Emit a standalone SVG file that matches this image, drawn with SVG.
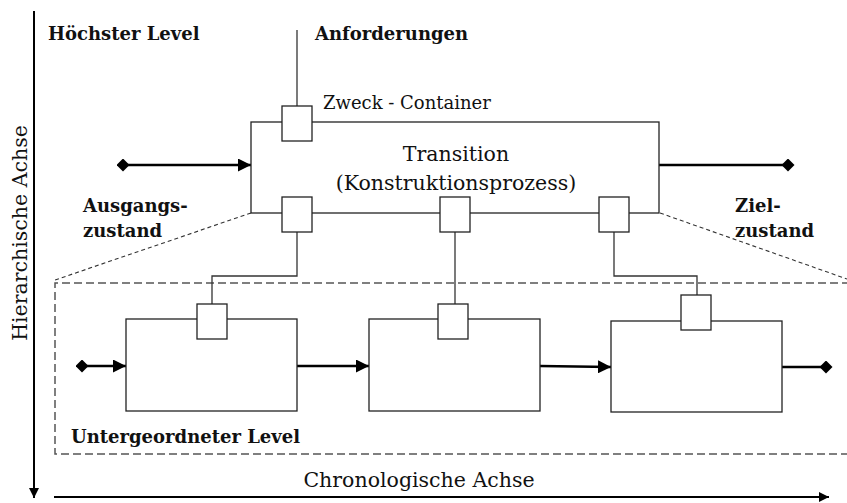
<svg xmlns="http://www.w3.org/2000/svg" width="847" height="503" viewBox="0 0 847 503">
  <defs>
    <marker id="tri" viewBox="0 0 10 10" refX="10" refY="5" markerWidth="5" markerHeight="5" markerUnits="strokeWidth" orient="auto">
      <path d="M0,0 L10,5 L0,10 z" fill="#000"/>
    </marker>
    <marker id="dia" viewBox="0 0 10 10" refX="5" refY="5" markerWidth="5" markerHeight="5" markerUnits="strokeWidth" orient="auto">
      <path d="M0,5 L5,0 L10,5 L5,10 z" fill="#000"/>
    </marker>
    <marker id="axis" viewBox="0 0 10 10" refX="10" refY="5" markerWidth="6" markerHeight="5" markerUnits="strokeWidth" orient="auto">
      <path d="M0,0 L10,5 L0,10 z" fill="#000"/>
    </marker>
  </defs>
  <style>
    .box { fill: #fff; stroke: #222; stroke-width: 1.3; }
    .wire { fill: none; stroke: #333; stroke-width: 1.3; }
    .flow { fill: none; stroke: #000; stroke-width: 2.6; }
    .axis { fill: none; stroke: #000; stroke-width: 2; }
    .scope { fill: none; stroke: #555; stroke-width: 1.5; stroke-dasharray: 8 4; }
    .zoom { fill: none; stroke: #333; stroke-width: 1.1; stroke-dasharray: 4 3; }
    .bold { font-family: "DejaVu Serif", "Liberation Serif", serif; font-weight: bold; font-size: 18px; fill: #111; }
    .reg { font-family: "DejaVu Serif", "Liberation Serif", serif; font-size: 18px; fill: #111; }
    .big { font-family: "DejaVu Serif", "Liberation Serif", serif; font-size: 20.5px; fill: #111; }
  </style>

  <!-- axes -->
  <g id="axes">
    <line class="axis" x1="34" y1="11" x2="34" y2="498" marker-end="url(#axis)"/>
    <line class="axis" x1="54" y1="497" x2="829" y2="497" marker-end="url(#axis)"/>
    <text class="big" transform="translate(27,233) rotate(-90)" text-anchor="middle">Hierarchische Achse</text>
    <text class="big" x="419" y="487" text-anchor="middle">Chronologische Achse</text>
  </g>

  <!-- scope of the lower level -->
  <g id="lower-scope">
    <path class="scope" d="M850,283 H55 V454 H850"/>
    <line class="zoom" x1="251" y1="213" x2="55" y2="280"/>
    <line class="zoom" x1="660" y1="213" x2="847" y2="279"/>
  </g>

  <!-- connectors -->
  <g id="connectors">
    <line class="wire" x1="297" y1="30" x2="297" y2="106"/>
    <path class="wire" d="M297,232 V276 H212 V304"/>
    <line class="wire" x1="455" y1="232" x2="455" y2="304"/>
    <path class="wire" d="M614,231 V276 H697 V295"/>
    <line class="flow" x1="123" y1="165" x2="251" y2="165" marker-start="url(#dia)" marker-end="url(#tri)"/>
    <line class="flow" x1="659" y1="165" x2="788" y2="165" marker-end="url(#dia)"/>
    <line class="flow" x1="82" y1="366" x2="126" y2="366" marker-start="url(#dia)" marker-end="url(#tri)"/>
    <line class="flow" x1="297" y1="366" x2="369" y2="366" marker-end="url(#tri)"/>
    <line class="flow" x1="540" y1="366" x2="611" y2="367" marker-end="url(#tri)"/>
    <line class="flow" x1="782" y1="367" x2="826" y2="367" marker-end="url(#dia)"/>
  </g>

  <!-- upper level: transition -->
  <g id="transition">
    <rect class="box" x="251" y="122" width="408" height="91"/>
    <text class="big" x="456" y="161" text-anchor="middle">Transition</text>
    <text class="big" x="456" y="190" text-anchor="middle">(Konstruktionsprozess)</text>
  </g>
  <g id="purpose-port">
    <rect class="box" x="282" y="106" width="30" height="35"/>
  </g>
  <g id="port-a">
    <rect class="box" x="282" y="197" width="30" height="35"/>
  </g>
  <g id="port-b">
    <rect class="box" x="440" y="197" width="30" height="35"/>
  </g>
  <g id="port-c">
    <rect class="box" x="599" y="197" width="30" height="35"/>
  </g>

  <!-- lower level: sub-transitions -->
  <g id="sub-1">
    <rect class="box" x="126" y="319" width="171" height="92"/>
    <rect class="box" x="197" y="304" width="30" height="35"/>
  </g>
  <g id="sub-2">
    <rect class="box" x="369" y="319" width="171" height="92"/>
    <rect class="box" x="438" y="304" width="30" height="35"/>
  </g>
  <g id="sub-3">
    <rect class="box" x="611" y="321" width="171" height="91"/>
    <rect class="box" x="681" y="295" width="30" height="35"/>
  </g>

  <!-- labels -->
  <g id="labels">
    <text class="bold" x="48" y="40">Höchster Level</text>
    <text class="bold" x="315" y="40">Anforderungen</text>
    <text class="reg" x="323" y="109">Zweck - Container</text>
    <text class="bold" x="83" y="212">Ausgangs-</text>
    <text class="bold" x="83" y="237">zustand</text>
    <text class="bold" x="735" y="212">Ziel-</text>
    <text class="bold" x="735" y="237">zustand</text>
    <text class="bold" x="71" y="443">Untergeordneter Level</text>
  </g>
</svg>
